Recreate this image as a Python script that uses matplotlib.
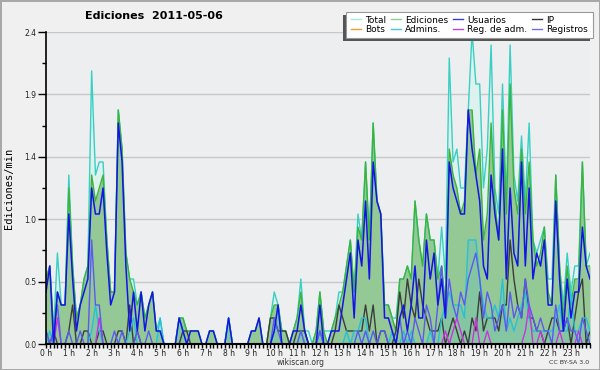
import matplotlib.pyplot as plt
import numpy as np
from matplotlib.lines import Line2D
from matplotlib.patches import Rectangle
from matplotlib.ticker import FixedLocator, MultipleLocator

# edits per minute, one value every 10 minutes (144 points, 0h -> 23h50)
total = [.5, .6, .1, .7, .3, .3, 1.3, .6, .2, .3, .5, .6,
         2.1, 1.3, 1.4, 1.4, .8, .4, .4, 1.8, 1.5, .7, .5, .5,
         .3, .4, .2, .3, .4, .1, .2, 0, 0, 0, 0, .2,
         .2, .1, .1, .1, .1, 0, 0, .1, .1, 0, 0, 0,
         .2, 0, 0, 0, 0, 0, .1, .1, .2, 0, 0, .2,
         .4, .3, .1, .1, 0, .1, .2, .5, .1, .1, 0, .1,
         .4, .1, .1, .1, .2, .4, .4, .6, .8, .4, 1.0, .8,
         1.4, .8, 1.7, 1.1, 1.0, .3, .3, .2, .2, .5, .5, .6,
         .5, 1.1, .8, .6, 1.0, .8, .8, .5, .9, .5, 2.2, 1.4,
         1.5, 1.2, 1.2, 1.8, 2.4, 2.0, 2.0, 1.2, 1.5, 2.3, 1.2, 1.0,
         2.0, 1.1, 2.3, 1.3, 1.1, 1.6, 1.1, 1.7, .8, .7, .8, .9,
         .5, .5, 1.3, .6, .3, .7, .4, .6, .6, 1.4, .6, .7]

ediciones = [.5, .6, .1, .4, .3, .3, 1.2, .6, .2, .3, .5, .6,
             1.3, 1.1, 1.2, 1.3, .8, .4, .4, 1.8, 1.5, .7, .5, .4,
             .3, .4, .2, .3, .4, .1, .1, 0, 0, 0, 0, .2,
             .2, .1, .1, .1, .1, 0, 0, .1, .1, 0, 0, 0,
             .2, 0, 0, 0, 0, 0, .1, .1, .2, 0, 0, .2,
             .3, .3, .1, .1, 0, .1, .2, .4, .1, 0, 0, .1,
             .4, .1, 0, .1, .2, .3, .4, .6, .8, .4, .9, .8,
             1.4, .8, 1.7, 1.1, 1.0, .3, .3, .2, .1, .5, .5, .6,
             .5, 1.1, .8, .6, 1.0, .8, .8, .5, .6, .3, 1.5, 1.3,
             1.2, 1.0, 1.1, 1.8, 1.8, 1.3, 1.5, .8, 1.0, 1.7, 1.1, .8,
             1.8, 1.0, 2.0, 1.2, 1.0, 1.5, 1.0, 1.4, .8, .6, .7, .9,
             .4, .3, 1.3, .6, .2, .6, .3, .5, .5, 1.4, .6, .6]

usuarios = [.4, .6, 0, .4, .3, .3, 1.0, .5, .1, .3, .4, .5,
            1.2, 1.0, 1.0, 1.2, .7, .3, .4, 1.7, 1.4, .6, .1, .4,
            .1, .4, .1, .3, .4, .1, .1, 0, 0, 0, 0, .2,
            .1, 0, .1, .1, .1, 0, 0, .1, .1, 0, 0, 0,
            .2, 0, 0, 0, 0, 0, .1, .1, .2, 0, 0, 0,
            .1, .3, 0, 0, 0, .1, .1, .3, .1, 0, 0, 0,
            .3, 0, 0, .1, .1, .1, .3, .5, .7, .2, .8, .6,
            1.1, .5, 1.4, 1.1, 1.0, .2, .2, .1, 0, .2, .3, .1,
            .3, .6, .2, .2, .8, .5, .7, .3, .5, .2, 1.4, 1.2,
            1.1, 1.0, 1.0, 1.8, 1.5, 1.3, 1.1, .6, .5, 1.3, 1.0, .8,
            1.5, .5, 1.2, .7, .6, 1.4, .6, 1.2, .5, .7, .6, .8,
            .3, .3, 1.1, .5, .1, .5, .2, .4, .4, .9, .6, .5]

ip = [.1, 0, .1, 0, 0, 0, .1, .3, 0, 0, .1, .1,
      0, 0, .1, .1, 0, 0, 0, .1, .1, 0, .3, 0,
      .1, 0, 0, 0, 0, 0, 0, 0, 0, 0, 0, 0,
      .1, .1, 0, 0, 0, 0, 0, 0, 0, 0, 0, 0,
      0, 0, 0, 0, 0, 0, 0, 0, 0, 0, 0, .2,
      .2, .1, .1, .1, 0, 0, .1, .1, .1, 0, 0, 0,
      .1, 0, 0, 0, .1, .3, .2, .1, .1, .1, .1, .1,
      .3, .1, .3, 0, .1, .1, 0, 0, .1, .4, .2, .5,
      .3, .2, .5, .3, .2, .1, .1, .1, .2, 0, .1, .2,
      .1, 0, .1, 0, .2, .1, .4, .1, .2, .2, .2, .1,
      .3, .3, .8, .5, .3, .2, .5, .2, .2, .1, .1, 0,
      .1, .2, .2, .1, .1, .2, 0, .2, .4, .5, 0, .1]

bots = [0] * 144

admins = [0, .1, 0, 0, 0, 0, 0, 0, 0, 0, 0, 0,
          .1, .3, .1, 0, 0, 0, 0, 0, 0, 0, .1, .2,
          0, 0, 0, 0, 0, 0, .2, 0, 0, 0, 0, .2,
          .1, 0, 0, 0, 0, 0, 0, 0, 0, 0, 0, 0,
          .2, 0, 0, 0, 0, 0, 0, 0, 0, 0, 0, 0,
          .1, .3, 0, 0, 0, 0, 0, .1, 0, 0, 0, 0,
          .1, 0, 0, 0, 0, 0, 0, .1, 0, .1, .1, .2,
          .2, 0, 0, 0, 0, 0, 0, .1, 0, 0, .1, 0,
          .1, 0, 0, 0, 0, .1, 0, 0, .2, .3, .4, .3,
          .3, .3, .2, .8, .8, .8, .5, .3, .2, .2, .3, .2,
          .5, .1, .2, .1, .2, .3, .4, .2, .1, .1, .1, .1,
          .1, .1, .2, .3, .1, .1, .4, .1, .1, .2, .2, .1]

reg_adm = [0, 0, 0, .2, 0, 0, 0, 0, 0, 0, 0, 0,
           0, 0, .2, 0, 0, 0, 0, 0, 0, 0, 0, 0,
           0, 0, 0, 0, 0, 0, 0, 0, 0, 0, 0, 0,
           0, 0, 0, 0, 0, 0, 0, 0, 0, 0, 0, 0,
           0, 0, 0, 0, 0, 0, 0, 0, 0, 0, 0, 0,
           0, 0, 0, 0, 0, 0, 0, 0, 0, 0, 0, 0,
           0, 0, 0, 0, 0, 0, 0, 0, 0, 0, 0, 0,
           0, 0, 0, 0, 0, 0, 0, 0, 0, 0, 0, 0,
           0, 0, 0, 0, 0, 0, 0, 0, 0, .1, 0, .1,
           .2, .1, 0, 0, 0, .2, 0, 0, .1, 0, 0, 0,
           0, 0, 0, 0, 0, 0, .1, .3, 0, 0, .1, 0,
           0, 0, 0, .1, 0, 0, 0, 0, .1, 0, 0, 0]

registros = [.1, 0, .1, .3, 0, 0, .1, 0, 0, .1, 0, 0,
             .8, .3, .3, 0, 0, 0, .1, 0, .1, 0, 0, 0,
             .1, 0, 0, .1, 0, 0, 0, 0, 0, 0, 0, 0,
             0, 0, 0, 0, 0, 0, 0, 0, 0, 0, 0, 0,
             0, 0, 0, 0, 0, 0, 0, 0, 0, 0, 0, 0,
             .2, .1, 0, 0, 0, 0, 0, .1, 0, 0, 0, 0,
             .1, 0, 0, 0, 0, 0, 0, 0, 0, 0, .1, 0,
             .1, 0, .1, 0, .1, .1, 0, 0, 0, .2, 0, .1,
             0, .2, .1, 0, .3, .2, 0, .3, .6, .2, .5, .3,
             .2, .4, .3, .5, .6, .7, .5, .2, .4, .3, .1, .2,
             .3, .1, .4, .2, .3, .2, .5, .3, .2, .1, .2, .1,
             .1, 0, .3, .1, .1, .2, .1, .1, 0, .2, .1, 0]

hour_labels = [f"{h} h" for h in range(24)]
y_ticks = [0, 0.48, 0.96, 1.44, 1.92, 2.4]
y_labels = ["0.0", "0.5", "1.0", "1.4", "1.9", "2.4"]

x = np.arange(len(total)) / 6.0

fig = plt.figure(figsize=(6, 3.7), dpi=100)
fig.patch.set_facecolor("#f0f0f0")
fig.patch.set_edgecolor("#a8a8a8")
fig.patch.set_linewidth(2)

ax = fig.add_axes([46 / 600, 26 / 370, 544 / 600, 312 / 370])
ax.set_facecolor("#edeef0")

ax.fill_between(x, total, color="#ddf2ee", lw=0, zorder=1)
ax.plot(x, total, color="#38d0c4", lw=1.0, zorder=2.0)
ax.fill_between(x, ediciones, color="#94c894", lw=0, zorder=1.1)
ax.plot(x, ediciones, color="#3cb43c", lw=1.0, zorder=2.1)
ax.fill_between(x, admins, color="#40c0d8", alpha=0.2, lw=0, zorder=1.2)
ax.plot(x, bots, color="#f39a2e", lw=1.0, zorder=2.2)
ax.plot(x, ip, color="#3c3c3c", lw=1.0, zorder=2.3)
ax.plot(x, admins, color="#28c0d8", lw=1.0, zorder=2.4)
ax.plot(x, reg_adm, color="#cc33dd", lw=1.0, zorder=2.5)
ax.plot(x, registros, color="#5a5af0", lw=1.0, zorder=2.6)
ax.plot(x, usuarios, color="#1414e6", lw=1.1, zorder=2.7)

ax.set_xlim(0, x[-1])
ax.set_ylim(0, 2.4)

ax.set_xticks(range(24))
ax.set_xticklabels(hour_labels)
ax.xaxis.set_minor_locator(MultipleLocator(1 / 6))
ax.tick_params(axis="x", which="both", direction="out", length=3, width=1,
               labelsize=5.5, pad=0.5, colors="black", labelcolor="#222222")

ax.yaxis.set_major_locator(FixedLocator(y_ticks))
ax.set_yticklabels(y_labels)
ax.yaxis.set_minor_locator(MultipleLocator(0.24))
ax.tick_params(axis="y", which="major", direction="out", length=6, width=1,
               labelsize=5.5, pad=1, labelcolor="#222222")
ax.tick_params(axis="y", which="minor", direction="out", length=3, width=1)

ax.set_axisbelow(True)
ax.yaxis.grid(True, color="#c8c8c8", lw=1)

for s in ["top", "right"]:
    ax.spines[s].set_visible(False)
ax.spines["left"].set_linewidth(1.2)
ax.spines["bottom"].set_linewidth(1.5)
for s in ["left", "bottom"]:
    ax.spines[s].set_zorder(3)

fig.text(154 / 600, 1 - 16 / 370, "Ediciones  2011-05-06", ha="center", va="center",
         fontsize=8, fontweight="bold")
fig.text(9 / 600, 1 - 188 / 370, "Ediciones/min", rotation=90, ha="center", va="center",
         fontsize=7.5, family="DejaVu Sans Mono")
fig.text(301 / 600, 1 - 362.5 / 370, "wikiscan.org", ha="center", va="center",
         fontsize=5.5, color="#333333")
fig.text(589 / 600, 1 - 363 / 370, "CC BY-SA 3.0", ha="right", va="center",
         fontsize=4.5, color="#333333")

# legend box with a shadow to the lower left
box_x, box_y, box_w, box_h = 346 / 600, 1 - 38 / 370, 247 / 600, 26 / 370
fig.patches.append(Rectangle((box_x - 3 / 600, box_y - 3 / 370), box_w, box_h,
                             transform=fig.transFigure, facecolor="#555555",
                             edgecolor="none", zorder=5))
fig.patches.append(Rectangle((box_x, box_y), box_w, box_h,
                             transform=fig.transFigure, facecolor="white",
                             edgecolor="#999999", lw=0.8, zorder=5.1))

names = ["Total", "Bots", "Ediciones", "Admins.", "Usuarios", "Reg. de adm.", "IP", "Registros"]
colors = ["#a8e6dc", "#f39a2e", "#8fd08f", "#40c8d8", "#3a3ae0", "#c040e0", "#333333", "#7070e0"]
handles = [Line2D([], [], color=c, lw=1.0) for c in colors]
leg = fig.legend(handles, names, ncol=4, loc="center",
                 bbox_to_anchor=(box_x, box_y, box_w, box_h), fontsize=6.5,
                 handlelength=1.1, handletextpad=0.5, columnspacing=0.5,
                 borderpad=0.1, labelspacing=0.1, frameon=False)
leg.set_zorder(6)

plt.savefig("out.png", dpi=100, facecolor=fig.get_facecolor(), edgecolor=fig.get_edgecolor())
